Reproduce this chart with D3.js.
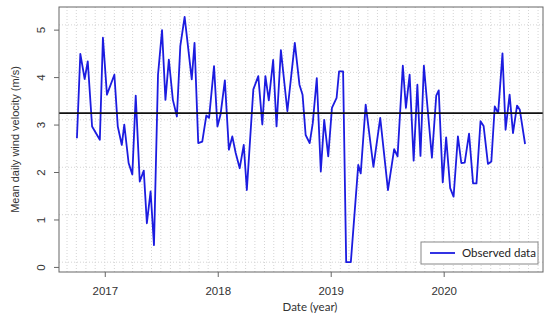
<!DOCTYPE html>
<html>
<head>
<meta charset="utf-8">
<script src="https://cdn.jsdelivr.net/npm/d3@7"></script>
<style>
  body { margin: 0; background: #fff; }
  svg { display: block; }
</style>
</head>
<body>
<svg id="chart" width="550" height="331"></svg>
<script>
// observed points
let dates = ['2016-10-03', '2016-10-14', '2016-10-28', '2016-11-07', '2016-11-21', '2016-12-16', '2016-12-26',
    '2017-01-08', '2017-02-01', '2017-02-12', '2017-02-25', '2017-03-05', '2017-03-19', '2017-03-31', '2017-04-11',
    '2017-04-24', '2017-05-07', '2017-05-17', '2017-05-29', '2017-06-09', '2017-06-22', '2017-07-05', '2017-07-16',
    '2017-07-27', '2017-08-09', '2017-08-22', '2017-09-02', '2017-09-16', '2017-10-09', '2017-10-18', '2017-10-30',
    '2017-11-12', '2017-11-25', '2017-12-04', '2017-12-20', '2017-12-31',
    '2018-01-10', '2018-01-24', '2018-02-06', '2018-02-17', '2018-02-28', '2018-03-13', '2018-03-26', '2018-04-05',
    '2018-04-26', '2018-05-12', '2018-05-25', '2018-06-04', '2018-06-15', '2018-06-29', '2018-07-10', '2018-07-24',
    '2018-08-14', '2018-09-07', '2018-09-22', '2018-10-02', '2018-10-12', '2018-10-25', '2018-11-04', '2018-11-17',
    '2018-11-30', '2018-12-11', '2018-12-24',
    '2019-01-05', '2019-01-20', '2019-01-28', '2019-02-10', '2019-02-20', '2019-03-07', '2019-03-31', '2019-04-08',
    '2019-04-24', '2019-05-19', '2019-06-10', '2019-07-05', '2019-07-25', '2019-08-05', '2019-08-22', '2019-09-01',
    '2019-09-13', '2019-09-26', '2019-10-08', '2019-10-18', '2019-10-29', '2019-11-24', '2019-12-08', '2019-12-16',
    '2019-12-29',
    '2020-01-09', '2020-01-22', '2020-02-02', '2020-02-16', '2020-02-27', '2020-03-09', '2020-03-23', '2020-04-05',
    '2020-04-16', '2020-04-29', '2020-05-09', '2020-05-23', '2020-06-03', '2020-06-14', '2020-06-25', '2020-07-09',
    '2020-07-19', '2020-08-01', '2020-08-12', '2020-08-25', '2020-09-03', '2020-09-20']

let velocity = [2.71, 4.49, 3.96, 4.33, 2.96, 2.68, 4.83,
    3.63, 4.05, 2.96, 2.57, 3.00, 2.19, 1.95, 3.61,
    1.80, 2.03, 0.92, 1.59, 0.46, 4.05, 4.99, 3.52,
    4.37, 3.52, 3.17, 4.65, 5.27, 3.95, 4.72, 2.61,
    2.64, 3.19, 3.14, 4.23, 2.96,
    3.21, 3.93, 2.47, 2.75, 2.40, 2.08, 2.57, 1.62,
    3.74, 4.02, 3.00, 4.02, 3.51, 4.36, 2.96, 4.57,
    3.28, 4.72, 3.84, 3.63, 2.78, 2.61, 3.03, 3.98,
    2.01, 3.10, 2.33,
    3.35, 3.56, 4.12, 4.12, 0.10, 0.10, 2.15, 1.97,
    3.42, 2.11, 3.14, 1.62, 2.48, 2.33, 4.24, 3.35,
    4.05, 2.24, 3.84, 2.34, 4.24, 2.30, 3.61, 3.72,
    1.78,
    2.73, 1.66, 1.48, 2.75, 2.19, 2.20, 2.81, 1.76,
    1.76, 3.07, 2.97, 2.17, 2.22, 3.38, 3.24, 4.50,
    2.89, 3.63, 2.82, 3.40, 3.31, 2.59]

let meanVelocity = 3.24
let yTicks = [0, 1, 2, 3, 4, 5]
let yGrid = [0.1, 1.1, 2.1, 3.1, 4.1, 5.1]
let xTickYears = ['2017', '2018', '2019', '2020']
let seriesName = 'Observed data'

let parseDate = d3.timeParse('%Y-%m-%d')
let parseYear = d3.timeParse('%Y')

let m = {top: 7, left: 59, right: 7, bottom: 59}
let W = 550, H = 331

let svg = d3.select('#chart')

let data = dates.map(function(d, i) { return {date: parseDate(d), value: velocity[i]} })

// R-style 4% padding on both axes
let xExt = d3.extent(data, d => d.date)
let xPad = (xExt[1] - xExt[0]) * 0.04
let xScale = d3.scaleTime()
    .domain([new Date(+xExt[0] - xPad), new Date(+xExt[1] + xPad)])
    .range([m.left, W - m.right])

let yExt = d3.extent(velocity)
let yPad = (yExt[1] - yExt[0]) * 0.04
let yScale = d3.scaleLinear()
    .domain([yExt[0] - yPad, yExt[1] + yPad])
    .range([H - m.bottom, m.top])

let plotW = W - m.right - m.left
let plotH = H - m.bottom - m.top

// grid
let months = d3.timeMonth.range(xScale.domain()[0], xScale.domain()[1])
svg.append('g')
    .selectAll('line')
    .data(months)
    .enter().append('line')
        .attr('x1', d => xScale(d))
        .attr('x2', d => xScale(d))
        .attr('y1', m.top)
        .attr('y2', H - m.bottom)
        .attr('stroke', '#d4d4d4')
        .attr('stroke-width', 1)
        .attr('stroke-dasharray', '1,2')

svg.append('g')
    .selectAll('line')
    .data(yGrid)
    .enter().append('line')
        .attr('x1', m.left)
        .attr('x2', W - m.right)
        .attr('y1', d => yScale(d))
        .attr('y2', d => yScale(d))
        .attr('stroke', '#d4d4d4')
        .attr('stroke-width', 1)
        .attr('stroke-dasharray', '1,2')

// series
let line = d3.line()
    .x(d => xScale(d.date))
    .y(d => yScale(d.value))

svg.append('path')
    .datum(data)
    .attr('d', line)
    .attr('fill', 'none')
    .attr('stroke', '#1c1ce0')
    .attr('stroke-width', 1.8)
    .attr('stroke-linejoin', 'round')

// mean line
svg.append('line')
    .attr('x1', m.left)
    .attr('x2', W - m.right)
    .attr('y1', yScale(meanVelocity))
    .attr('y2', yScale(meanVelocity))
    .attr('stroke', '#111')
    .attr('stroke-width', 1.8)

// box
svg.append('rect')
    .attr('x', m.left)
    .attr('y', m.top)
    .attr('width', plotW)
    .attr('height', plotH)
    .attr('fill', 'none')
    .attr('stroke', '#666')
    .attr('stroke-width', 1)

// x axis
let xAxis = d3.axisBottom(xScale)
    .tickValues(xTickYears.map(parseYear))
    .tickFormat(d3.timeFormat('%Y'))
    .tickSize(5)
    .tickPadding(10)

let gx = svg.append('g')
    .attr('transform', `translate(0, ${H - m.bottom})`)
    .call(xAxis)
gx.select('.domain').remove()
gx.selectAll('line').attr('stroke', '#666')
gx.selectAll('text')
    .attr('fill', '#333')
    .style('font-family', '"Liberation Sans", Arial, sans-serif')
    .style('font-size', '11.5px')

// y axis
let yAxis = d3.axisLeft(yScale)
    .tickValues(yTicks)
    .tickFormat(d3.format('d'))
    .tickSize(5)

let gy = svg.append('g')
    .attr('transform', `translate(${m.left}, 0)`)
    .call(yAxis)
gy.select('.domain').remove()
gy.selectAll('line').attr('stroke', '#666')
gy.selectAll('text')
    .attr('transform', 'rotate(-90)')
    .attr('x', 0)
    .attr('y', -14)
    .attr('dy', 0)
    .attr('text-anchor', 'middle')
    .attr('fill', '#333')
    .style('font-family', '"Liberation Sans", Arial, sans-serif')
    .style('font-size', '11.5px')

// axis titles
svg.append('text')
    .attr('x', 310)
    .attr('y', 311)
    .attr('text-anchor', 'middle')
    .attr('fill', '#333')
    .style('font-family', 'Lato, sans-serif')
    .style('font-size', '11.5px')
    .text('Date (year)')

svg.append('text')
    .attr('transform', `translate(19, ${m.top + plotH / 2}) rotate(-90)`)
    .attr('text-anchor', 'middle')
    .attr('fill', '#333')
    .style('font-family', '"Liberation Sans", Arial, sans-serif')
    .style('font-size', '11px')
    .text('Mean daily wind velocity (m/s)')

// legend
let lg = svg.append('g').attr('transform', 'translate(421, 242)')
lg.append('rect')
    .attr('width', 117)
    .attr('height', 22)
    .attr('fill', '#fff')
    .attr('stroke', '#888')
    .attr('stroke-width', 1)
lg.append('line')
    .attr('x1', 9)
    .attr('x2', 34)
    .attr('y1', 11)
    .attr('y2', 11)
    .attr('stroke', '#1c1ce0')
    .attr('stroke-width', 1.8)
lg.append('text')
    .attr('x', 41)
    .attr('y', 15)
    .attr('fill', '#222')
    .style('font-family', 'Lato, sans-serif')
    .style('font-size', '11.5px')
    .text(seriesName)
</script>
</body>
</html>
